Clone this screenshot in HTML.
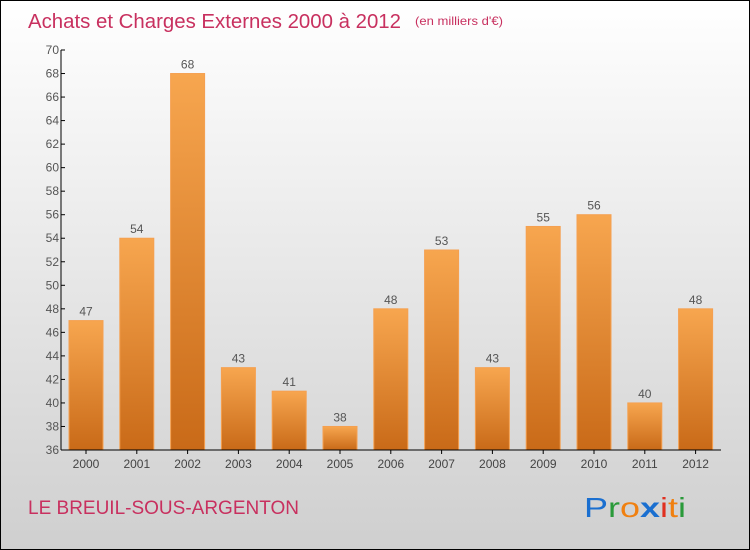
<!DOCTYPE html>
<html><head><meta charset="utf-8"><style>
body{margin:0}
#c{width:748px;height:548px;border:1px solid #000;background:linear-gradient(#ffffff,#cfcfcf);position:relative;font-family:"Liberation Sans",sans-serif;overflow:hidden}
</style></head><body>
<div id="c">
<svg id="s" width="748" height="548" style="position:absolute;left:0;top:0">
<defs><linearGradient id="g" x1="0" y1="0" x2="0" y2="1"><stop offset="0" stop-color="#f7a64f"/><stop offset="1" stop-color="#c96a18"/></linearGradient></defs>
<text x="27" y="27" font-size="20" fill="#c8305f" textLength="373" lengthAdjust="spacingAndGlyphs">Achats et Charges Externes 2000 à 2012</text>
<text x="414" y="24" font-size="12" fill="#c8305f" textLength="88" lengthAdjust="spacingAndGlyphs">(en milliers d'€)</text>
<text x="27" y="513" font-size="19" fill="#c8305f">LE BREUIL-SOUS-ARGENTON</text>
<g font-size="28" font-family="Liberation Sans, sans-serif">
<text x="583" y="516" textLength="102" lengthAdjust="spacingAndGlyphs"><tspan fill="#1a6fd0">P</tspan><tspan fill="#2a9a3a">r</tspan><tspan fill="#f08010">o</tspan><tspan fill="#1a6fd0" font-weight="bold">x</tspan><tspan fill="#e03020">i</tspan><tspan fill="#f08010">t</tspan><tspan fill="#2a9a3a">i</tspan></text></g>
<g id="plot"></g>
</svg>
</div>
<script>
const years=["2000","2001","2002","2003","2004","2005","2006","2007","2008","2009","2010","2011","2012"];
const values=[47,54,68,43,41,38,48,53,43,55,56,40,48];
const yTicks=[36,38,40,42,44,46,48,50,52,54,56,58,60,62,64,66,68,70];
const NS="http://www.w3.org/2000/svg";
const g=document.getElementById('plot');
const y0=36,y1=70,py0=449,py1=49,ax=60;
const Y=v=>py0-(v-y0)/(y1-y0)*(py0-py1);
const X=i=>85+i*50.8;
function mk(t,a){const e=document.createElementNS(NS,t);for(const k in a)e.setAttribute(k,a[k]);g.appendChild(e);return e;}
values.forEach((v,i)=>{
 const r=mk('rect',{x:X(i)-17,y:Y(v),width:34,height:py0-Y(v),fill:'url(#g)',stroke:'#f5a050','stroke-width':1});
 
 
 const t=mk('text',{x:X(i),y:Y(v)-5,'text-anchor':'middle','font-size':12,fill:'#555'});t.textContent=v;
 
 
 const l=mk('text',{x:X(i),y:467,'text-anchor':'middle','font-size':12,fill:'#444'});l.textContent=years[i];
 
 
 mk('line',{x1:X(i),x2:X(i),y1:py0,y2:py0+4,stroke:'#000'});
});
yTicks.forEach(v=>{
 mk('line',{x1:ax,x2:ax+4,y1:Y(v),y2:Y(v),stroke:'#000'});
 const t=mk('text',{x:ax-2,y:Y(v)+4,'text-anchor':'end','font-size':12,fill:'#555'});t.textContent=v;
 
 
});
const ya=mk('line',{x1:ax,x2:ax,y1:py1,y2:py0,stroke:'#000'});


const xa=mk('line',{x1:ax,x2:720,y1:py0,y2:py0,stroke:'#000'});


</script>
</body></html>
